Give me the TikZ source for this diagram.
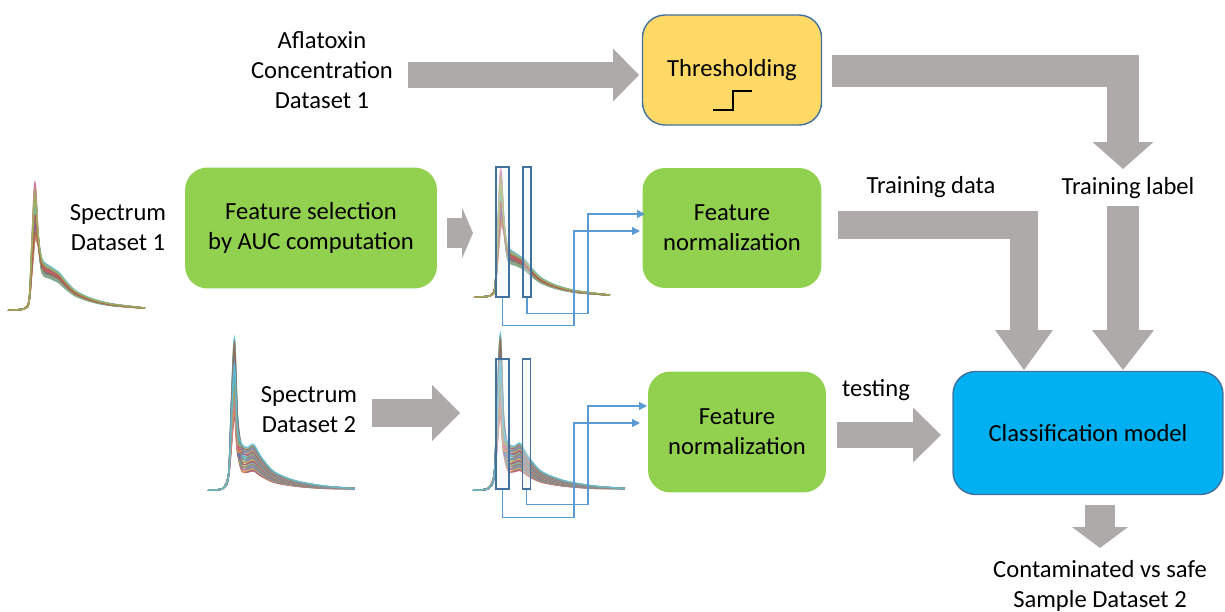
\documentclass[tikz,border=0pt]{standalone}
\usepackage{fontspec}
\setmainfont{Carlito}
\usetikzlibrary{arrows.meta}

\definecolor{arrowgray}{HTML}{AEAAAA}
\definecolor{boxgreen}{HTML}{92D050}
\definecolor{boxyellow}{HTML}{FFD966}
\definecolor{boxblue}{HTML}{00B0F0}
\definecolor{edgeblue}{HTML}{41719C}
\definecolor{linkblue}{HTML}{5B9BD5}
\definecolor{selfill}{HTML}{EAF1FA}
\definecolor{specolive}{HTML}{A8A56C}
\definecolor{specbrown}{HTML}{9E6B4A}
\definecolor{specpurple}{HTML}{7E5C9E}
\definecolor{specblue}{HTML}{4F81BD}
\definecolor{specteal}{HTML}{4BACC6}
\definecolor{specred}{HTML}{C0504D}
\definecolor{specorange}{HTML}{F79646}
\definecolor{specgreen}{HTML}{9BBB59}
\definecolor{specpink}{HTML}{D86BA0}
\definecolor{speccyan}{HTML}{5BC0DE}

% spectra of dataset 1: left, baseline, width, height
\newcommand{\spectrumA}[4]{%
  \begin{scope}[shift={(#1,#2)},x=#3,y=#4]
    \foreach \i in {0,...,23} {
      \pgfmathsetmacro\pk{0.55+0.45*mod(7*\i,24)/23}
      \pgfmathsetmacro\sh{0.8+0.3*mod(5*\i,24)/23}
      \pgfmathsetmacro\cl{{"specolive","specbrown","specred","specgreen","specorange","specteal","specblue","specpink","specpurple","speccyan"}[mod(\i,10)]}
      \draw[\cl,line width=0.8pt,opacity=0.85] plot[smooth,tension=0.5] coordinates {(0,0) (0.12,0.01)
        (0.155,0.08) (0.175,{0.55*\pk}) (0.197,\pk) (0.22,{0.4+0.2*\pk}) (0.25,{0.36*\sh})
        (0.31,{0.31*\sh}) (0.37,{0.27*\sh}) (0.42,{0.21*\sh}) (0.49,{0.14*\sh})
        (0.6,{0.085*\sh}) (0.75,{0.045*\sh}) (1,0.015)};
    }
  \end{scope}}

% spectra of dataset 2
\newcommand{\spectrumB}[4]{%
  \begin{scope}[shift={(#1,#2)},x=#3,y=#4]
    \foreach \i in {0,...,29} {
      \pgfmathsetmacro\pk{0.5+0.5*mod(11*\i,30)/29}
      \pgfmathsetmacro\sh{0.42+0.58*\i/29}
      \pgfmathsetmacro\cl{{"specred","specpurple","specorange","specgreen","specblue","specpink","specteal","specbrown","specolive","speccyan"}[mod(\i,10)]}
      \draw[\cl,line width=0.8pt,opacity=0.85] plot[smooth,tension=0.5] coordinates {(0,0) (0.1,0.01)
        (0.14,0.1) (0.16,{0.6*\pk}) (0.18,\pk) (0.2,{0.5*\pk}) (0.23,{0.3*\sh})
        (0.27,{0.28*\sh}) (0.31,{0.3*\sh}) (0.36,{0.22*\sh}) (0.45,{0.12*\sh})
        (0.6,{0.06*\sh}) (0.8,{0.025*\sh}) (1,0.01)};
    }
  \end{scope}}

\begin{document}
\begin{tikzpicture}[x=0.02cm,y=-0.02cm,line join=miter,
    every node/.style={font=\fontsize{14}{17}\selectfont},
    txt/.style={align=center,inner sep=0pt},
    box/.style={rounded corners=0.45cm,align=center,inner sep=0pt},
    greenbox/.style={box,fill=boxgreen},
    selbox/.style={draw=edgeblue,fill=selfill,fill opacity=0.35,line width=0.9pt,inner sep=0pt,minimum height=2.6cm},
    feed/.style={draw=linkblue,line width=0.6pt,-{Triangle[length=4.5pt,width=4.5pt]}},
    block/.style n args={3}{draw=arrowgray,line width=#1,-{Triangle[length=#2,width=#3,line width=0pt]}}]
  \useasboundingbox (0,0) rectangle (1225,612);

  % boxes
  \node[box,fill=boxyellow,draw=edgeblue,line width=0.8pt,minimum width=3.58cm,minimum height=2.2cm] (thr) at (732,70) {Thresholding};
  \draw[line width=0.8pt] (713,110) -- (733,110) -- (733,91) -- (752,91);
  \node[greenbox,minimum width=5.04cm,minimum height=2.42cm] (fs) at (311,228) {Feature selection\\by AUC computation};
  \node[greenbox,minimum width=3.58cm,minimum height=2.4cm] (fn1) at (732,228) {Feature\\normalization};
  \node[greenbox,minimum width=3.56cm,minimum height=2.42cm] (fn2) at (737,432) {Feature\\normalization};
  \node[box,fill=boxblue,draw=edgeblue,line width=0.8pt,minimum width=5.4cm,minimum height=2.46cm] (cls) at (1088,433) {Classification model};

  % texts
  \node[txt] (afla) at (322,70) {Aflatoxin\\Concentration\\Dataset 1};
  \node[txt] (sp1) at (118,228) {Spectrum\\Dataset 1};
  \node[txt] (sp2) at (309,410) {Spectrum\\Dataset 2};
  \node[txt] (tdata) at (931,187) {Training data};
  \node[txt] (tlabel) at (1128,188) {Training label};
  \node[txt] (test) at (876,390) {testing};
  \node[txt] (res) at (1100,586) {Contaminated vs safe\\Sample Dataset 2};

  % spectra
  \spectrumA{8}{310}{2.74cm}{2.54cm}
  \spectrumA{474}{297}{2.72cm}{2.54cm}
  \spectrumB{208}{490}{2.94cm}{3.04cm}
  \spectrumB{473}{490}{3.04cm}{3.12cm}

  % selected bands
  \node[selbox,minimum width=0.26cm] (r1a) at (502.5,232) {};
  \node[selbox,minimum width=0.16cm] (r2a) at (527,232) {};
  \node[selbox,minimum width=0.26cm] (r1b) at (502.5,424) {};
  \node[selbox,minimum width=0.16cm] (r2b) at (526.5,424) {};

  \draw[feed] (r2a.south) -- ++(0,16) -| (588,214) -- (645,214);
  \draw[feed] (r1a.south) -- ++(0,28) -| (574,231) -- (640,231);
  \draw[feed] (r2b.south) -- ++(0,15) -| (588,406) -- (647,406);
  \draw[feed] (r1b.south) -- ++(0,28) -| (574,423) -- (640,423);

  % block arrows
  \coordinate (a1) at (408,75);
  \coordinate (a2) at (832,71);
  \coordinate (a3) at (447,233);
  \coordinate (a4) at (838,225);
  \coordinate (a5) at (1123,206);
  \coordinate (a6) at (372,413);
  \coordinate (a7) at (837,435);
  \coordinate (a8) at (1100,505);
  \draw[block={0.54cm}{0.52cm}{1.06cm}] (a1) -- (639,75);
  \draw[block={0.64cm}{0.54cm}{1.22cm}] (a2) -| (1123,169);
  \draw[block={0.6cm}{0.22cm}{1.02cm}] (a3) -- (473,233);
  \draw[block={0.56cm}{0.8cm}{1.16cm}] (a4) -| (1024,370);
  \draw[block={0.64cm}{0.8cm}{1.24cm}] (a5) -- (1123,370);
  \draw[block={0.56cm}{0.56cm}{1.12cm}] (a6) -- (460,413);
  \draw[block={0.52cm}{0.56cm}{1.1cm}] (a7) -- (941,435);
  \draw[block={0.6cm}{0.42cm}{1.12cm}] (a8) -- (1100,548);
\end{tikzpicture}
\end{document}
